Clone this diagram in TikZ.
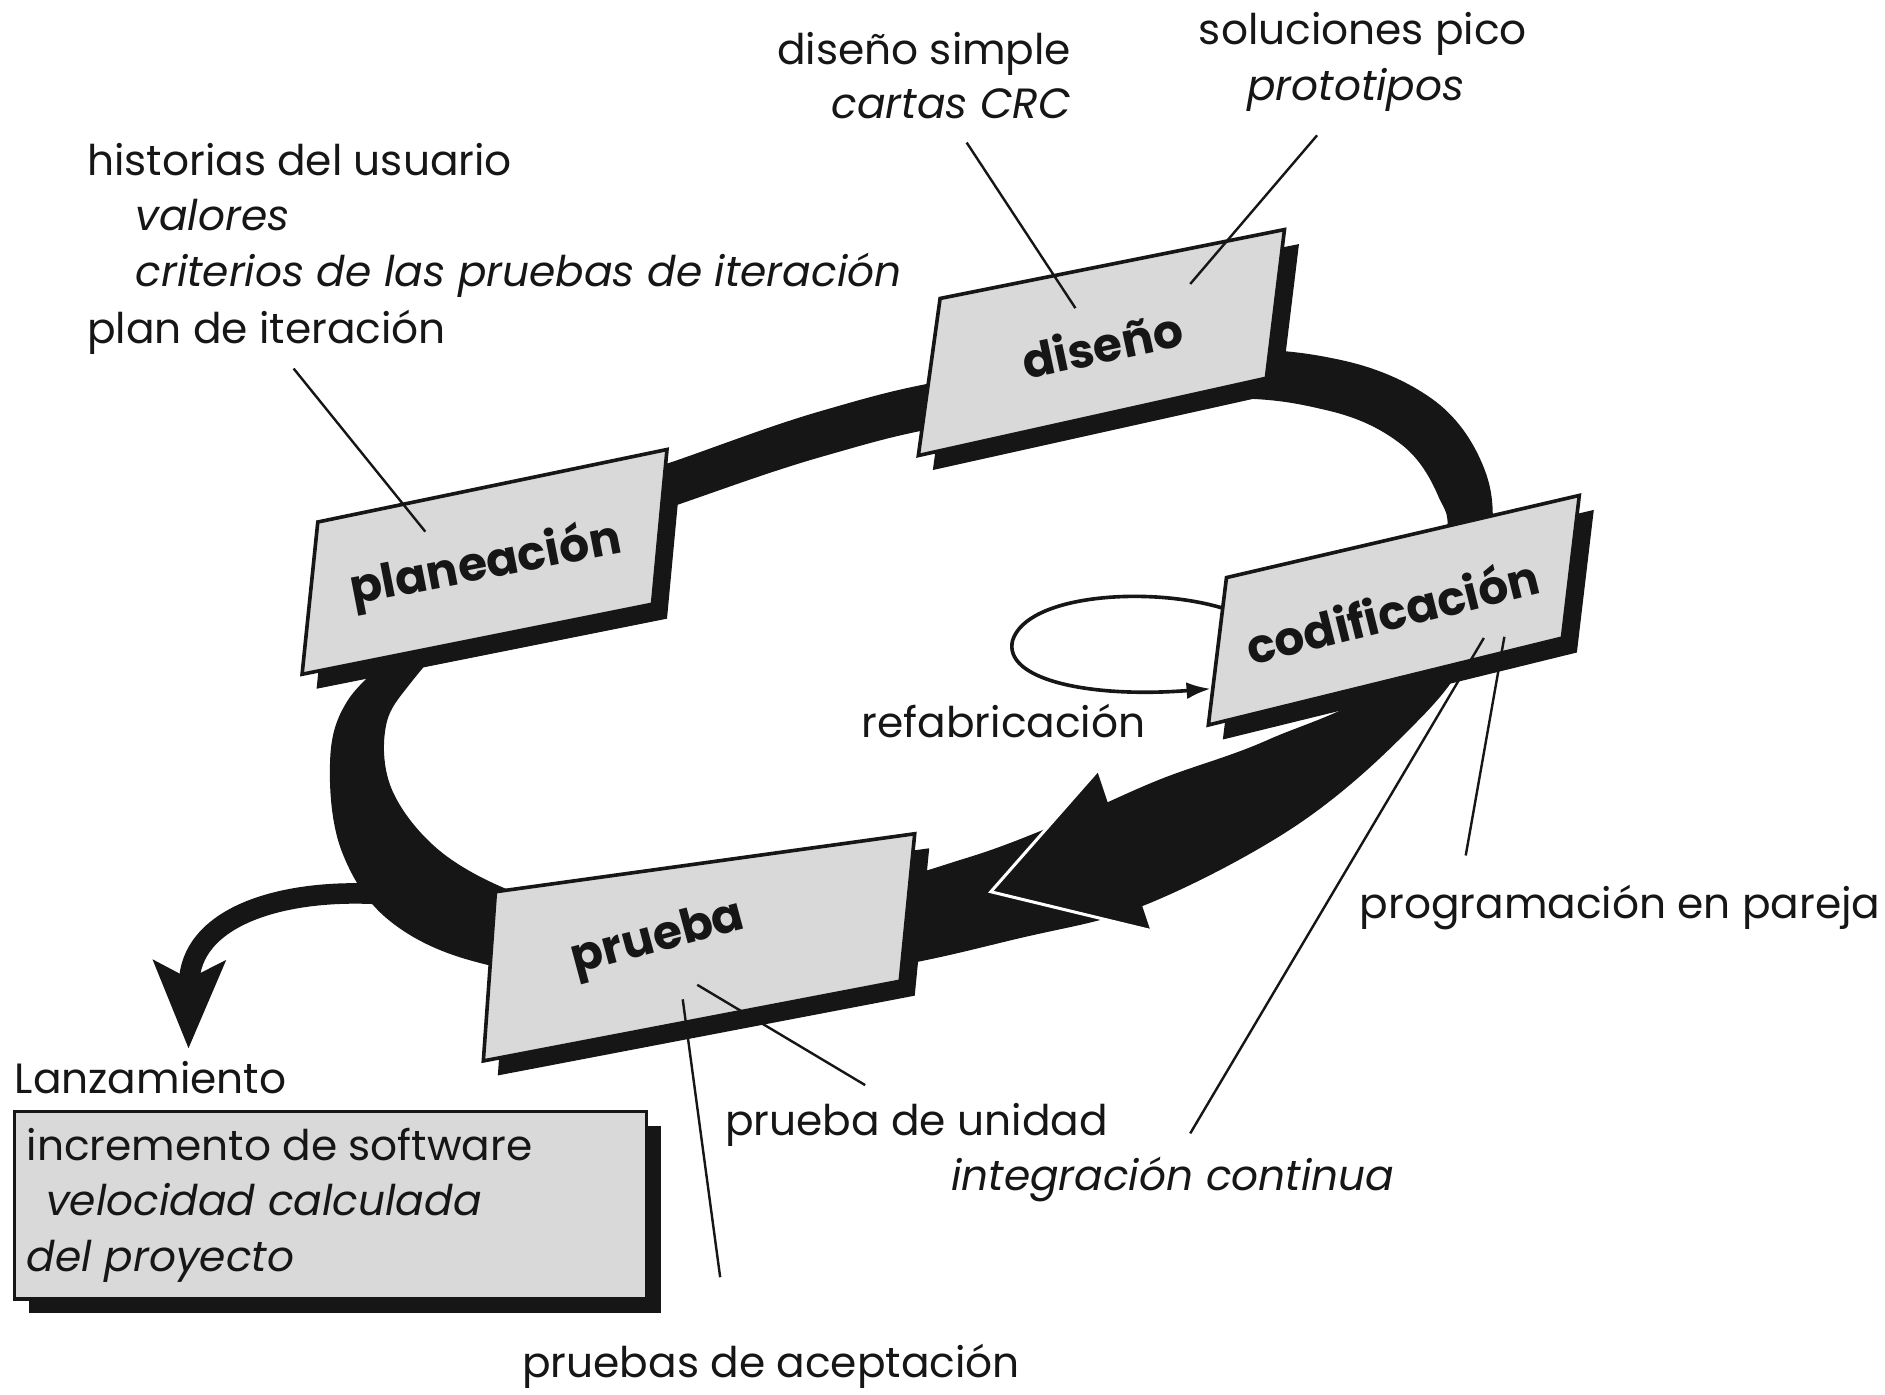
\documentclass[tikz,border=0pt]{standalone}
\usepackage{fontspec}
\setmainfont{Poppins}
\usetikzlibrary{arrows.meta}
\definecolor{face}{RGB}{217,217,217}
\definecolor{ink}{RGB}{22,22,22}
\begin{document}
\begin{tikzpicture}[x=1pt,y=-1pt,
  txt/.style={anchor=base west, inner sep=0pt, font=\fontsize{35}{42}\selectfont, text=ink},
  itxt/.style={anchor=base west, inner sep=0pt, font=\fontsize{35}{42}\selectfont\itshape, text=ink},
  lead/.style={draw=ink, line width=2pt},
  phase/.style={font=\fontsize{39}{46}\selectfont\bfseries, text=ink, inner sep=0pt},
  facestyle/.style={fill=face, draw=ink, line width=3pt, line join=miter},
  shadowstyle/.style={fill=ink}
]
\useasboundingbox (0,0) rectangle (1560,1153.7);

% ---------- main loop band ----------
\fill[ink, even odd rule]
  plot[smooth cycle, tension=0.6] coordinates {
    (450,420) (560,381) (680,340) (800,312) (1000,290) (1110,298) (1185,330)
    (1225,380) (1235,440) (1215,540) (1160,610) (1070,685) (950,748) (850,775)
    (700,805) (500,810) (390,795) (320,760) (283,705) (273,640) (283,588) (325,540)}
  plot[smooth cycle, tension=0.6] coordinates {
    (470,450) (560,418) (680,378) (800,350) (1000,330) (1100,340) (1160,368)
    (1190,410) (1195,450) (1150,560) (1050,612) (960,645) (880,680) (800,710)
    (700,735) (500,755) (430,740) (365,705) (325,655) (319,603) (340,565) (400,500)};

% ---------- big arrow head on the loop ----------
\coordinate (ahT) at (908,638);
\coordinate (ahP) at (820,738);
\coordinate (ahB) at (952,770);
\fill[ink] (ahT) -- (ahP) -- (ahB) -- cycle;
\draw[white, line width=2.5pt, line join=miter] (ahT) -- (ahP) -- (ahB);

% ---------- release arrow ----------
\coordinate (rel0) at (315,740);
\coordinate (rel1) at (156,868);
\draw[ink, line width=17pt, -{Stealth[length=72pt, width=58pt, inset=14pt]}]
  (rel0) .. controls (230,735) and (157,760) .. (rel1);

% ---------- phase boxes ----------
% planeacion
\begin{scope}[shift={(12,12)}]
  \fill[shadowstyle] (263,432) -- (552,372) -- (540,500) -- (250,558) -- cycle;
\end{scope}
\filldraw[facestyle] (263,432) -- (552,372) -- (540,500) -- (250,558) -- cycle;
\node[phase, rotate=11] (plan) at (402,468) {planeación};

% diseno
\begin{scope}[shift={(12,12)}]
  \fill[shadowstyle] (778,247) -- (1063,190) -- (1048,313) -- (760,377) -- cycle;
\end{scope}
\filldraw[facestyle] (778,247) -- (1063,190) -- (1048,313) -- (760,377) -- cycle;
\node[phase, rotate=12] (dis) at (912,285) {diseño};

% codificacion
\begin{scope}[shift={(12,12)}]
  \fill[shadowstyle] (1015,478) -- (1307,410) -- (1293,528) -- (1000,600) -- cycle;
\end{scope}
\filldraw[facestyle] (1015,478) -- (1307,410) -- (1293,528) -- (1000,600) -- cycle;
\node[phase, rotate=14] (cod) at (1152,505) {codificación};

% prueba
\begin{scope}[shift={(12,12)}]
  \fill[shadowstyle] (410,738) -- (757,690) -- (745,812) -- (400,878) -- cycle;
\end{scope}
\filldraw[facestyle] (410,738) -- (757,690) -- (745,812) -- (400,878) -- cycle;
\node[phase, rotate=15] (pru) at (545,778) {prueba};

% ---------- refabricacion loop ----------
\coordinate (rf0) at (1011,503);
\coordinate (rf1) at (1002,570);
\draw[ink, line width=3pt, -{Latex[length=20pt, width=14pt]}]
  (rf0) .. controls (950,485) and (850,492) .. (838,530)
        .. controls (830,562) and (900,578) .. (rf1);

% ---------- Lanzamiento box ----------
\fill[shadowstyle] (24,932) rectangle (547,1087);
\filldraw[facestyle] (12,920) rectangle (535,1075);

% ---------- texts ----------
\node[txt]  (t1)  at (643,53)   {diseño simple};
\node[itxt] (t2)  at (688,98)   {cartas CRC};
\node[txt]  (t3)  at (992,37)   {soluciones pico};
\node[itxt] (t4)  at (1032,83)  {prototipos};
\node[txt]  (t5)  at (72,145)   {historias del usuario};
\node[itxt] (t6)  at (112,191)  {valores};
\node[itxt] (t7)  at (112,237)  {criterios de las pruebas de iteración};
\node[txt]  (t8)  at (72,284)   {plan de iteración};
\node[txt]  (t9)  at (713,610)  {refabricación};
\node[txt]  (t10) at (1125,760) {programación en pareja};
\node[txt]  (t11) at (600,940)  {prueba de unidad};
\node[itxt] (t12) at (787,985)  {integración continua};
\node[txt]  (t13) at (12,905)   {Lanzamiento};
\node[txt]  (t14) at (22,960)   {incremento de software};
\node[itxt] (t15) at (38,1006)  {velocidad calculada};
\node[itxt] (t16) at (22,1052)  {del proyecto};
\node[txt]  (t17) at (432,1140) {pruebas de aceptación};

% ---------- leader lines ----------
\coordinate (a1) at (243,305);  \coordinate (b1) at (352,440);
\coordinate (a2) at (800,118);  \coordinate (b2) at (890,255);
\coordinate (a3) at (1090,112); \coordinate (b3) at (985,235);
\coordinate (a4) at (1245,527); \coordinate (b4) at (1213,708);
\coordinate (a5) at (1228,528); \coordinate (b5) at (985,938);
\coordinate (a6) at (577,815);  \coordinate (b6) at (716,898);
\coordinate (a7) at (565,827);  \coordinate (b7) at (596,1057);
\draw[lead] (a1) -- (b1);
\draw[lead] (a2) -- (b2);
\draw[lead] (a3) -- (b3);
\draw[lead] (a4) -- (b4);
\draw[lead] (a5) -- (b5);
\draw[lead] (a6) -- (b6);
\draw[lead] (a7) -- (b7);
\end{tikzpicture}
\end{document}
